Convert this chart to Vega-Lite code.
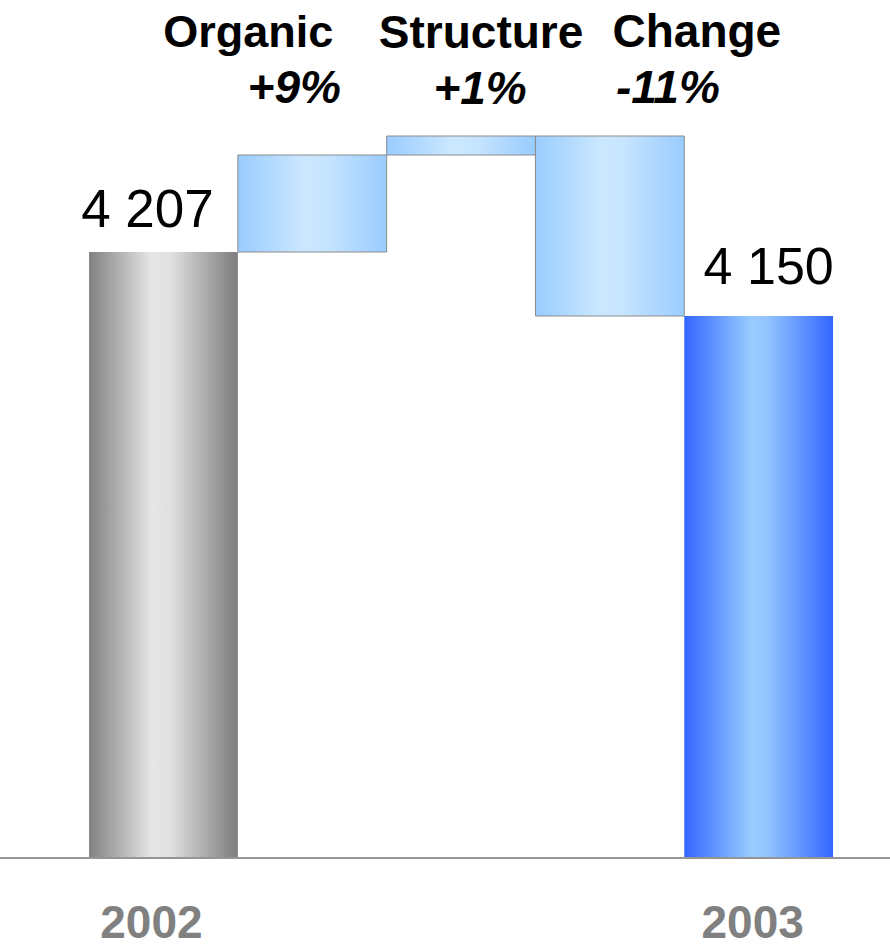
{
  "$schema": "https://vega.github.io/schema/vega-lite/v6.json",
  "width": 890,
  "height": 947,
  "autosize": {"type": "none"},
  "padding": 0,
  "background": "white",
  "config": {"view": {"stroke": null}, "text": {"font": "Liberation Sans", "color": "black"}},
  "data": {
    "values": [
      {"cat": "2002", "start": 0, "end": 606, "kind": "first", "label": "4 207", "pct": ""},
      {"cat": "Organic", "start": 606, "end": 703, "kind": "step", "label": "Organic", "pct": "+9%"},
      {"cat": "Structure", "start": 703, "end": 722, "kind": "step", "label": "Structure", "pct": "+1%"},
      {"cat": "Change", "start": 722, "end": 542, "kind": "step", "label": "Change", "pct": "-11%"},
      {"cat": "2003", "start": 0, "end": 542, "kind": "last", "label": "4 150", "pct": ""}
    ]
  },
  "layer": [
    {
      "transform": [{"filter": "datum.kind === 'first'"}],
      "mark": {"type": "bar", "color": {"gradient": "linear", "x1": 0, "y1": 0, "x2": 1, "y2": 0,
        "stops": [{"offset": 0, "color": "#808080"}, {"offset": 0.42, "color": "#e6e6e6"}, {"offset": 0.55, "color": "#e0e0e0"}, {"offset": 0.95, "color": "#868686"}, {"offset": 1, "color": "#808080"}]}},
      "encoding": {
        "x": {"field": "cat", "type": "nominal", "sort": ["2002", "Organic", "Structure", "Change", "2003"], "scale": {"type": "band", "domain": ["2002", "Organic", "Structure", "Change", "2003"], "paddingInner": 0, "paddingOuter": 0.4906, "align": 0.61}, "axis": null},
        "y": {"field": "start", "type": "quantitative", "scale": {"domain": [-89, 858], "nice": false, "zero": false}, "axis": null},
        "y2": {"field": "end"}
      }
    },
    {
      "transform": [{"filter": "datum.kind === 'step'"}],
      "mark": {"type": "bar", "stroke": "#8c8c8c", "strokeWidth": 1, "color": {"gradient": "linear", "x1": 0, "y1": 0, "x2": 1, "y2": 0,
        "stops": [{"offset": 0, "color": "#99ccff"}, {"offset": 0.45, "color": "#cce8ff"}, {"offset": 0.6, "color": "#c6e4ff"}, {"offset": 1, "color": "#99ccff"}]}},
      "encoding": {
        "x": {"field": "cat", "type": "nominal", "axis": null},
        "y": {"field": "start", "type": "quantitative"},
        "y2": {"field": "end"}
      }
    },
    {
      "transform": [{"filter": "datum.kind === 'last'"}],
      "mark": {"type": "bar", "color": {"gradient": "linear", "x1": 0, "y1": 0, "x2": 1, "y2": 0,
        "stops": [{"offset": 0, "color": "#3366ff"}, {"offset": 0.45, "color": "#99ccff"}, {"offset": 0.55, "color": "#94c6ff"}, {"offset": 1, "color": "#3366ff"}]}},
      "encoding": {
        "x": {"field": "cat", "type": "nominal", "axis": null},
        "y": {"field": "start", "type": "quantitative"},
        "y2": {"field": "end"}
      }
    },
    {
      "mark": {"type": "rule", "color": "#959595", "strokeWidth": 2},
      "encoding": {"y": {"datum": 0}}
    },
    {
      "transform": [{"filter": "datum.kind === 'first'"}],
      "mark": {"type": "text", "fontSize": 53, "baseline": "alphabetic", "dy": -25, "dx": -16},
      "encoding": {
        "x": {"field": "cat", "type": "nominal"},
        "y": {"field": "end", "type": "quantitative"},
        "text": {"field": "label"}
      }
    },
    {
      "transform": [{"filter": "datum.kind === 'last'"}],
      "mark": {"type": "text", "fontSize": 52, "baseline": "alphabetic", "dy": -32, "dx": 10},
      "encoding": {
        "x": {"field": "cat", "type": "nominal"},
        "y": {"field": "end", "type": "quantitative"},
        "text": {"field": "label"}
      }
    },
    {
      "transform": [{"filter": "datum.cat === 'Organic'"}],
      "layer": [
        {"mark": {"type": "text", "fontSize": 45, "fontWeight": "bold", "baseline": "alphabetic", "dx": -64},
         "encoding": {"x": {"field": "cat", "type": "nominal"}, "y": {"datum": 811}, "text": {"field": "label"}}},
        {"mark": {"type": "text", "fontSize": 46, "fontWeight": "bold", "fontStyle": "italic", "baseline": "alphabetic", "dx": -18},
         "encoding": {"x": {"field": "cat", "type": "nominal"}, "y": {"datum": 755}, "text": {"field": "pct"}}}
      ]
    },
    {
      "transform": [{"filter": "datum.cat === 'Structure'"}],
      "layer": [
        {"mark": {"type": "text", "fontSize": 46, "fontWeight": "bold", "baseline": "alphabetic", "dx": 20},
         "encoding": {"x": {"field": "cat", "type": "nominal"}, "y": {"datum": 810}, "text": {"field": "label"}}},
        {"mark": {"type": "text", "fontSize": 46, "fontWeight": "bold", "fontStyle": "italic", "baseline": "alphabetic", "dx": 19},
         "encoding": {"x": {"field": "cat", "type": "nominal"}, "y": {"datum": 754}, "text": {"field": "pct"}}}
      ]
    },
    {
      "transform": [{"filter": "datum.cat === 'Change'"}],
      "layer": [
        {"mark": {"type": "text", "fontSize": 46, "fontWeight": "bold", "baseline": "alphabetic", "dx": 87},
         "encoding": {"x": {"field": "cat", "type": "nominal"}, "y": {"datum": 811}, "text": {"field": "label"}}},
        {"mark": {"type": "text", "fontSize": 46, "fontWeight": "bold", "fontStyle": "italic", "baseline": "alphabetic", "dx": 58},
         "encoding": {"x": {"field": "cat", "type": "nominal"}, "y": {"datum": 755}, "text": {"field": "pct"}}}
      ]
    },
    {
      "transform": [{"filter": "datum.cat === '2002'"}],
      "mark": {"type": "text", "fontSize": 46, "fontWeight": "bold", "color": "#808080", "baseline": "alphabetic", "dx": -12},
      "encoding": {"x": {"field": "cat", "type": "nominal"}, "y": {"datum": -80}, "text": {"field": "cat"}}
    },
    {
      "transform": [{"filter": "datum.cat === '2003'"}],
      "mark": {"type": "text", "fontSize": 46, "fontWeight": "bold", "color": "#808080", "baseline": "alphabetic", "dx": -6},
      "encoding": {"x": {"field": "cat", "type": "nominal"}, "y": {"datum": -80}, "text": {"field": "cat"}}
    }
  ]
}
